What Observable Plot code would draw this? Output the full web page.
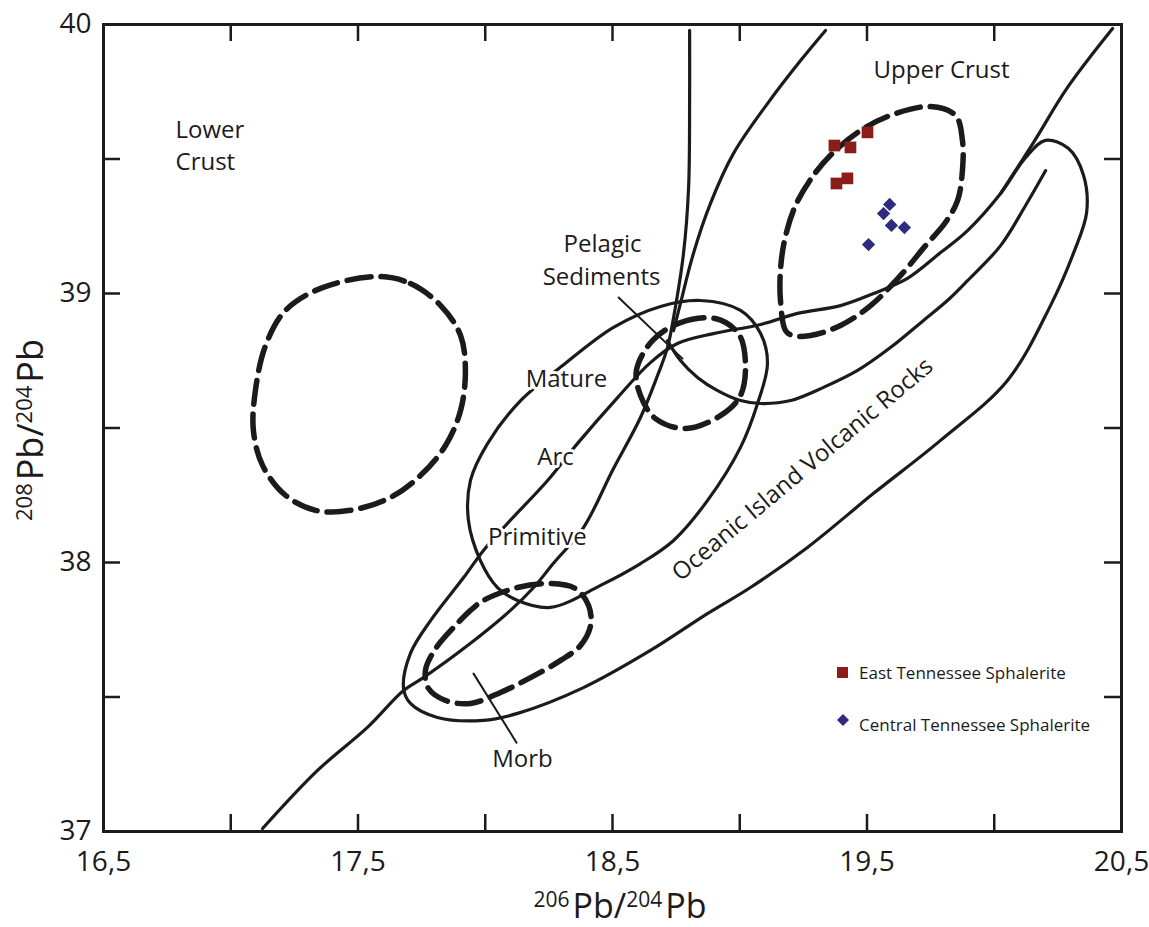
<!DOCTYPE html>
<html><head><meta charset="utf-8">
<script src="https://cdn.jsdelivr.net/npm/d3@7"></script>
<script src="https://cdn.jsdelivr.net/npm/@observablehq/plot@0.6"></script>
<style>body{margin:0;background:#fff;font-family:"Open Sans",sans-serif}</style>
</head><body><div id="chart"></div>
<script>
// ---- tick values ----
const xTickLabels = [16.5, 17.5, 18.5, 19.5, 20.5];
const xTicks = [17, 17.5, 18, 18.5, 19, 19.5, 20];
const yTickLabels = [37, 38, 39, 40];
const yTicks = [37.5, 38, 38.5, 39, 39.5];

// ---- sample data ----
const eastX = [19.372, 19.435, 19.502, 19.380, 19.423];
const eastY = [39.550, 39.543, 39.599, 39.409, 39.428];
const centralX = [19.589, 19.565, 19.596, 19.647, 19.506];
const centralY = [39.331, 39.297, 39.253, 39.245, 39.182];

// ---- fields (closed outlines) ----
const lowerCrustField = [[17.577,39.063],[17.706,39.037],[17.824,38.956],[17.903,38.844],[17.922,38.714],[17.903,38.565],[17.844,38.435],[17.746,38.324],[17.628,38.242],[17.471,38.194],[17.333,38.194],[17.215,38.250],[17.125,38.361],[17.089,38.491],[17.097,38.640],[17.137,38.807],[17.215,38.937],[17.353,39.019]];
const upperCrustField = [[19.180,38.862],[19.160,38.974],[19.160,39.086],[19.176,39.197],[19.219,39.327],[19.298,39.450],[19.376,39.532],[19.475,39.606],[19.592,39.662],[19.750,39.695],[19.848,39.662],[19.875,39.569],[19.875,39.457],[19.856,39.346],[19.808,39.264],[19.730,39.178],[19.632,39.067],[19.514,38.955],[19.396,38.881],[19.278,38.844],[19.207,38.844]];
const pelagicField = [[18.657,38.825],[18.767,38.892],[18.904,38.907],[18.995,38.851],[19.022,38.751],[19.003,38.621],[18.924,38.546],[18.787,38.498],[18.669,38.535],[18.610,38.621],[18.594,38.714]];
const morbField = [[17.993,37.859],[18.127,37.907],[18.256,37.922],[18.355,37.903],[18.406,37.840],[18.414,37.766],[18.374,37.691],[18.296,37.636],[18.178,37.572],[18.060,37.517],[17.942,37.476],[17.844,37.487],[17.777,37.532],[17.765,37.598],[17.805,37.680],[17.883,37.766],[17.942,37.822]];
const arcField = [[18.304,38.732],[18.504,38.874],[18.689,38.952],[18.846,38.974],[19.003,38.937],[19.082,38.851],[19.109,38.740],[19.070,38.591],[19.003,38.428],[18.873,38.230],[18.740,38.082],[18.610,37.996],[18.453,37.915],[18.256,37.833],[18.127,37.859],[18.048,37.907],[17.981,38.007],[17.934,38.156],[17.942,38.305],[18.009,38.442],[18.139,38.602]];
const oivField = [[17.679,37.532],[17.706,37.662],[17.785,37.784],[17.915,37.944],[17.993,38.045],[18.087,38.145],[18.245,38.305],[18.362,38.442],[18.520,38.613],[18.649,38.743],[18.755,38.814],[18.897,38.851],[19.082,38.885],[19.227,38.926],[19.396,38.955],[19.526,39.000],[19.659,39.056],[19.789,39.152],[19.895,39.234],[20.025,39.372],[20.123,39.505],[20.201,39.569],[20.292,39.539],[20.351,39.439],[20.363,39.301],[20.311,39.149],[20.221,38.955],[20.052,38.677],[19.789,38.454],[19.526,38.257],[19.266,38.056],[19.042,37.907],[18.873,37.810],[18.649,37.673],[18.386,37.535],[18.127,37.439],[17.993,37.413],[17.812,37.424],[17.706,37.476]];

// ---- open curves ----
const curveSteep = [[17.125,37.011],[17.341,37.227],[17.537,37.387],[17.679,37.524],[17.757,37.572],[17.915,37.680],[18.099,37.822],[18.190,37.907],[18.268,37.997],[18.386,38.130],[18.500,38.342],[18.610,38.539],[18.677,38.695],[18.716,38.799],[18.740,38.911],[18.779,39.149],[18.799,39.394],[18.803,39.717],[18.803,39.978]];
const curveMid = [[18.740,38.862],[18.767,38.963],[18.818,39.149],[18.885,39.335],[18.975,39.520],[19.109,39.706],[19.239,39.866],[19.337,39.978]];
const curveLoop = [[18.716,38.825],[18.767,38.751],[18.834,38.688],[18.913,38.639],[19.003,38.602],[19.082,38.591],[19.200,38.602],[19.329,38.651],[19.463,38.714],[19.592,38.799],[19.722,38.900],[19.816,38.974],[19.895,39.048],[20.025,39.178],[20.123,39.327],[20.202,39.457]];
const curveRight = [[20.025,39.372],[20.154,39.561],[20.288,39.766],[20.465,39.985]];
const leaderPelagic = [[18.524,38.985],[18.775,38.758]];
const leaderMorb = [[17.954,37.587],[18.123,37.330]];

// ---- region labels ----
const labelText = ["Lower","Crust","Upper Crust","Pelagic","Sediments","Mature","Arc","Primitive","Morb"];
const labelX = [16.783,16.783,19.793,18.461,18.457,18.319,18.276,18.205,18.146];
const labelY = [39.606,39.487,39.829,39.182,39.059,38.680,38.390,38.093,37.268];
const labelAnchor = ["start","start","middle","middle","middle","middle","middle","middle","middle"];
const oivLabel = {text:"Oceanic Island Volcanic Rocks", x:19.247, y:38.346};

const ink = "#1c1a1b";
const pt = d => d;
const lineOpts = {x: d => d[0], y: d => d[1], stroke: ink, strokeWidth: 3.2, fill: "none"};
const dashOpts = {...lineOpts, strokeWidth: 5.5, strokeDasharray: "24,10", curve: "catmull-rom-closed"};

const W = 1149, H = 927, mL = 103, mR = 28, mT = 24, mB = 96;
const innerH = H - mT - mB, innerW = W - mL - mR, tk = 17;

const labels = labelText.map((t,i)=>({t, x:labelX[i], y:labelY[i], a:labelAnchor[i]}));
const east = eastX.map((x,i)=>({x, y:eastY[i]}));
const central = centralX.map((x,i)=>({x, y:centralY[i]}));

const plot = Plot.plot({
  width: W, height: H, marginLeft: mL, marginRight: mR, marginTop: mT, marginBottom: mB,
  style: {fontFamily: "'Open Sans', sans-serif", background: "#fff", color: ink},
  x: {domain: [16.5, 20.5]},
  y: {domain: [37, 40]},
  marks: [
    Plot.axisX(xTickLabels, {tickSize: 0, tickPadding: 20, fontSize: 28, label: null, tickFormat: d => d.toFixed(1).replace(".", ",")}),
    Plot.axisY(yTickLabels, {tickSize: 0, tickPadding: 12, fontSize: 28, label: null, tickFormat: d => String(d)}),
    Plot.tickX(xTicks, {x: pt, insetTop: innerH - tk, stroke: ink, strokeWidth: 2.5}),
    Plot.tickX(xTicks, {x: pt, insetBottom: innerH - tk, stroke: ink, strokeWidth: 2.5}),
    Plot.tickY(yTicks, {y: pt, insetRight: innerW - tk, stroke: ink, strokeWidth: 2.5}),
    Plot.tickY(yTicks, {y: pt, insetLeft: innerW - tk, stroke: ink, strokeWidth: 2.5}),
    Plot.line(lowerCrustField, dashOpts),
    Plot.line(upperCrustField, dashOpts),
    Plot.line(pelagicField, dashOpts),
    Plot.line(morbField, dashOpts),
    Plot.line(arcField, {...lineOpts, curve: "catmull-rom-closed"}),
    Plot.line(oivField, {...lineOpts, curve: "catmull-rom-closed"}),
    Plot.line(curveSteep, {...lineOpts, curve: "catmull-rom"}),
    Plot.line(curveMid, {...lineOpts, curve: "catmull-rom"}),
    Plot.line(curveLoop, {...lineOpts, curve: "catmull-rom"}),
    Plot.line(curveRight, {...lineOpts, curve: "catmull-rom"}),
    Plot.line(leaderPelagic, {...lineOpts, strokeWidth: 2}),
    Plot.line(leaderMorb, {...lineOpts, strokeWidth: 2}),
    Plot.text(labels.filter(d=>d.a==="start"), {x:"x", y:"y", text:"t", textAnchor:"start", fontSize: 24, fill: ink}),
    Plot.text(labels.filter(d=>d.a==="middle"), {x:"x", y:"y", text:"t", textAnchor:"middle", fontSize: 24, fill: ink, stroke:"white", strokeWidth: 6}),
    Plot.text([oivLabel], {x:"x", y:"y", text:"text", rotate: -40, fontSize: 24, fill: ink, stroke: "white", strokeWidth: 6}),
    Plot.dot(east, {x:"x", y:"y", symbol:"square", r: 6.6, fill:"#8c1c1a", stroke:"none"}),
    Plot.dot(central, {x:"x", y:"y", symbol:"diamond2", r: 6, fill:"#2f2b7e", stroke:"none"}),
    Plot.frame({stroke: ink, strokeWidth: 3})
  ]
});
document.getElementById("chart").appendChild(plot);

// axis titles with superscripts + legend
const svg = d3.select(plot);
const ff = "'Open Sans', sans-serif";
const xl = svg.append("text").attr("x", 620).attr("y", 918).attr("text-anchor", "middle").attr("fill", ink).style("font-family", ff);
xl.append("tspan").attr("font-size", 21).attr("dy", -11).text("206");
xl.append("tspan").attr("font-size", 34).attr("dy", 11).attr("dx", 3).text("Pb/");
xl.append("tspan").attr("font-size", 21).attr("dy", -11).text("204");
xl.append("tspan").attr("font-size", 34).attr("dy", 11).attr("dx", 3).text("Pb");
const yl = svg.append("text").attr("transform", "translate(43,430) rotate(-90)").attr("text-anchor", "middle").attr("fill", ink).style("font-family", ff);
yl.append("tspan").attr("font-size", 22).attr("dy", -11).text("208");
yl.append("tspan").attr("font-size", 36).attr("dy", 11).attr("dx", 3).text("Pb/");
yl.append("tspan").attr("font-size", 22).attr("dy", -11).text("204");
yl.append("tspan").attr("font-size", 36).attr("dy", 11).attr("dx", 3).text("Pb");

const lg = svg.append("g").style("font-family", ff).attr("fill", ink).attr("text-anchor", "start");
lg.append("rect").attr("x", 837).attr("y", 667).attr("width", 11).attr("height", 11).attr("fill", "#8c1c1a");
lg.append("text").attr("x", 859).attr("y", 679).attr("text-anchor", "start").attr("font-size", 17).text("East Tennessee Sphalerite");
lg.append("path").attr("d", "M843,714L849,720L843,726L837,720Z").attr("fill", "#2f2b7e");
lg.append("text").attr("x", 859).attr("y", 731).attr("text-anchor", "start").attr("font-size", 17).text("Central Tennessee Sphalerite");
</script></body></html>
